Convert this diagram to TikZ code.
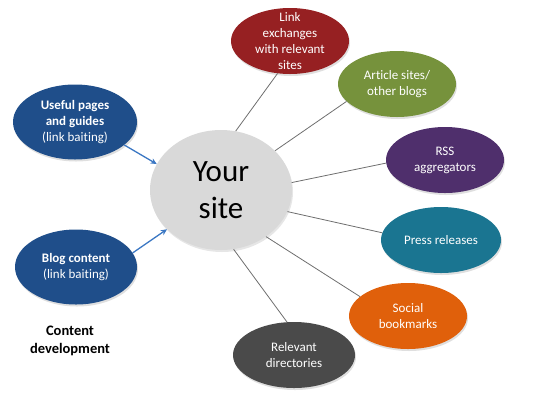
\documentclass[tikz,border=0pt]{standalone}
\usepackage{fontspec}
\setmainfont{Carlito}[Ligatures=NoCommon]
\usetikzlibrary{arrows.meta,positioning,shapes.geometric,shadows}
\definecolor{SiteGray}{HTML}{D9D9D9}
\definecolor{LinkRed}{HTML}{962022}
\definecolor{BlogGreen}{HTML}{76923C}
\definecolor{RssPurple}{HTML}{4F2F6C}
\definecolor{PressTeal}{HTML}{1A7591}
\definecolor{SocialOrange}{HTML}{E0600B}
\definecolor{DirGray}{HTML}{4A4A4A}
\definecolor{ContentBlue}{HTML}{1F4E8A}
\definecolor{ArrowBlue}{HTML}{3B77C3}
\definecolor{SpokeGray}{HTML}{6E6E6E}

\begin{document}
\begin{tikzpicture}[
    x=1pt,y=-1pt,
    bubble/.style={ellipse,inner sep=0pt,minimum width=118pt,minimum height=66pt,
                   align=center,text=white,font=\fontsize{13}{16}\selectfont,
                   drop shadow={opacity=0.25,shadow xshift=1pt,shadow yshift=-2pt}},
    hub/.style={ellipse,fill=SiteGray,minimum width=142pt,minimum height=120pt,
                align=center,font=\fontsize{31}{37}\selectfont,
                drop shadow={opacity=0.2,shadow xshift=1pt,shadow yshift=-2pt}},
    spoke/.style={draw=SpokeGray,line width=0.8pt},
    arrow/.style={-{Stealth[length=2.2mm,width=2mm]},line width=1.3pt,color=ArrowBlue}
  ]
    \useasboundingbox (0,0) rectangle (540,400);
    \node[hub] (site) at (221,190) {Your\\site};
    % outgoing links
    \node[bubble,fill=LinkRed,inner ysep=-8pt] (link) at (290,41) {Link\\exchanges\\with relevant\\sites};
    \node[bubble,fill=BlogGreen] (article) at (397,84) {Article sites/\\other blogs};
    \node[bubble,fill=RssPurple] (rss) at (445,160) {RSS\\aggregators};
    \node[bubble,fill=PressTeal,minimum width=120pt] (press) at (441,240) {Press releases};
    \node[bubble,fill=SocialOrange] (social) at (408,316) {Social\\bookmarks};
    \node[bubble,fill=DirGray,minimum width=122pt] (dirs) at (294,355) {Relevant\\directories};
    % content development
    \node[bubble,fill=ContentBlue,minimum width=124pt,minimum height=75pt] (useful) at (75,122) {\bfseries Useful pages\\\bfseries and guides\\(link baiting)};
    \node[bubble,fill=ContentBlue,minimum width=122pt,minimum height=75pt] (blog) at (76,267) {\bfseries Blog content\\(link baiting)};
    \node[below=18pt of blog,xshift=-6pt,align=center,font=\fontsize{14.5}{18}\selectfont\bfseries] (caption) {Content\\development};
    \draw[spoke] (site.76) -- (link.249);
    \draw[spoke] (site.36) -- (article.199);
    \draw[spoke] (site.6) -- (rss.183);
    \draw[spoke] (site.-18) -- (press.173);
    \draw[spoke] (site.-46) -- (social.158);
    \draw[spoke] (site.-78) -- (dirs.102);
    \draw[arrow] (useful.-25) -- (site.158);
    \draw[arrow] (blog.14) -- (site.216);
  \end{tikzpicture}
\end{document}
